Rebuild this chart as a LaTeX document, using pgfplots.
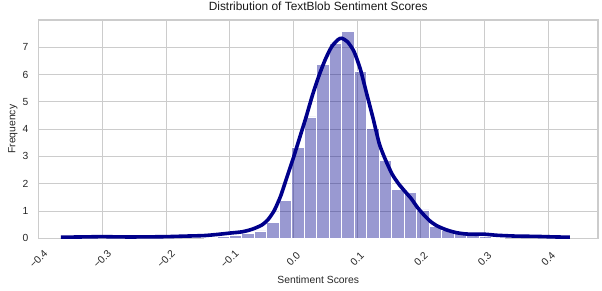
\documentclass[border=0pt]{standalone}
\usepackage{fontspec}
\setmainfont{Liberation Sans}
\usepackage{pgfplots}
\pgfplotsset{compat=1.18}
\definecolor{darkblue}{RGB}{0,0,139}
\definecolor{gridgray}{RGB}{204,204,204}
\begin{document}
\begin{tikzpicture}
\begin{axis}[
  scale only axis,
  width=559.5pt, height=218.3pt,
  at={(0pt,0pt)}, anchor=south west,
  xmin=-0.4, xmax=0.478,
  ymin=0, ymax=8.0,
  xtick={-0.4,-0.3,-0.2,-0.1,0.0,0.1,0.2,0.3,0.4},
  xticklabels={−0.4,−0.3,−0.2,−0.1,0.0,0.1,0.2,0.3,0.4},
  ytick={0,1,2,3,4,5,6,7},
  yticklabels={0,1,2,3,4,5,6,7},
  grid=major,
  major grid style={gridgray, line width=0.8pt},
  axis line style={gridgray, line width=1.2pt},
  major tick length=0pt,
  tick style={draw=none},
  xticklabel style={font=\fontsize{10.3}{12}\selectfont, color=black!85, yshift=-20.5pt, rotate=45, anchor=center, inner sep=0pt},
  yticklabel style={font=\fontsize{10.3}{12}\selectfont, color=black!85, inner sep=0pt, xshift=-10pt},
  xlabel={Sentiment Scores},
  ylabel={Frequency},
  xlabel style={font=\fontsize{10.35}{12}\selectfont, color=black!85, at={(axis description cs:0.5,0)}, anchor=base, yshift=-45pt},
  ylabel style={font=\fontsize{10.35}{12}\selectfont, color=black!85, at={(axis description cs:0,0.5)}, anchor=base, rotate=0, xshift=0pt, yshift=23pt},
  title={Distribution of TextBlob Sentiment Scores},
  title style={font=\fontsize{11.9}{14}\selectfont, color=black!90, at={(axis description cs:0.5,1)}, anchor=base, yshift=3.5pt},
]
\addplot[ybar interval, fill=darkblue, fill opacity=0.4, draw=white, line width=0.7pt, draw opacity=1] coordinates {
(-0.1397,0.04)
(-0.1201,0.06)
(-0.1005,0.12)
(-0.0809,0.18)
(-0.0613,0.27)
(-0.0417,0.59)
(-0.0221,1.38)
(-0.0025,3.32)
(0.0171,4.45)
(0.0367,6.37)
(0.0563,7.16)
(0.0759,7.57)
(0.0955,6.10)
(0.1151,4.03)
(0.1347,2.84)
(0.1543,1.79)
(0.1739,1.67)
(0.1935,1.04)
(0.2131,0.45)
(0.2327,0.30)
(0.2523,0.18)
(0.2719,0.12)
(0.2915,0.06)
(0.3111,0.04)
(0.3307,0.04)
};
\addplot[darkblue, line width=3.6pt, smooth, tension=0.4] coordinates {
(-0.365,0.04)
(-0.33,0.05)
(-0.30,0.06)
(-0.27,0.05)
(-0.24,0.05)
(-0.20,0.06)
(-0.17,0.08)
(-0.14,0.10)
(-0.12,0.14)
(-0.10,0.19)
(-0.08,0.24)
(-0.065,0.33)
(-0.05,0.48)
(-0.04,0.68)
(-0.03,1.02)
(-0.02,1.55)
(-0.01,2.25)
(0.0,2.95)
(0.01,3.70)
(0.02,4.45)
(0.03,5.25)
(0.04,5.95)
(0.05,6.55)
(0.06,7.02)
(0.07,7.28)
(0.076,7.33)
(0.085,7.20)
(0.095,6.85)
(0.105,6.20)
(0.115,5.30)
(0.125,4.40)
(0.135,3.45)
(0.145,2.85)
(0.155,2.35)
(0.165,2.00)
(0.175,1.72)
(0.185,1.45)
(0.195,1.12)
(0.205,0.85)
(0.215,0.62)
(0.225,0.46)
(0.24,0.31)
(0.255,0.21)
(0.27,0.16)
(0.285,0.15)
(0.30,0.15)
(0.32,0.11)
(0.35,0.08)
(0.38,0.07)
(0.41,0.05)
(0.434,0.04)
};
\end{axis}
\pgfresetboundingbox
\path (-38.5pt,-52.7pt) rectangle (563.5pt,238.3pt);
\end{tikzpicture}
\end{document}
